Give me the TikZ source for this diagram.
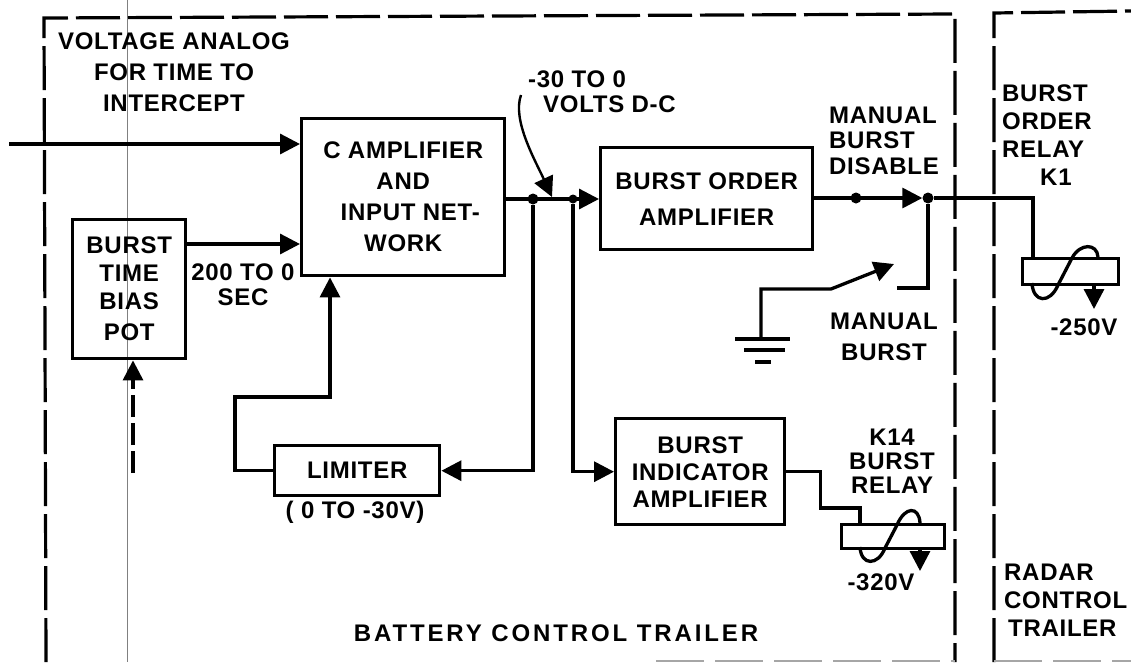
\documentclass[tikz,border=0pt]{standalone}
\usepackage{fontspec}
\setmainfont{Liberation Sans}[LetterSpace=3]
\usetikzlibrary{arrows.meta}
\tikzset{
  box/.style={draw, line width=3.4pt, anchor=north west, align=center, inner sep=0pt},
  coil/.style={draw, line width=3.2pt, anchor=north west, inner sep=0pt},
  wire/.style={line width=3.3pt},
  trailer/.style={line width=3.2pt, dash pattern=on 44pt off 8pt},
  faint/.style={gray!70, line width=1.5pt, dash pattern=on 48pt off 11pt},
  dot/.style={circle, fill=black, inner sep=0pt, minimum size=11pt},
  lab/.style={align=center, inner sep=0pt},
  labl/.style={align=left, inner sep=0pt, anchor=west}
}
\begin{document}
\begin{tikzpicture}[x=1pt, y=-1pt, font=\bfseries\fontsize{24}{31}\selectfont, >={Triangle[length=20pt,width=20pt]}]
  \useasboundingbox (0,0) rectangle (1131,662);
  \draw[gray, line width=0.7pt] (127,0) -- (127,662);
  \draw[trailer] (46,662) -- (44,18) -- (955,14) -- (955,662);
  \draw[trailer] (994,662) -- (994,13) -- (1131,11);
  \draw[faint] (656,661) -- (955,661);
  \draw[faint] (994,661) -- (1131,661);
  \node[box, minimum width=203pt, minimum height=157pt] (camp) at (300,117) {C AMPLIFIER\\AND\\\hspace{14pt}INPUT NET-\\WORK};
  \node[box, minimum width=113pt, minimum height=139pt] (pot) at (71,218) {BURST\\[-3pt]TIME\\[-3pt]BIAS\\POT};
  \node[box, minimum width=165pt, minimum height=50pt] (limiter) at (273,444) {LIMITER};
  \node[box, minimum width=212pt, minimum height=102pt] (order) at (599,146) {BURST ORDER\\[5pt]AMPLIFIER};
  \node[box, minimum width=169pt, minimum height=106pt] (indicator) at (614,417) {BURST\\[-4pt]INDICATOR\\[-4pt]AMPLIFIER};
  \node[coil, minimum width=96pt, minimum height=26pt] (k1) at (1021,257) {};
  \node[coil, minimum width=103pt, minimum height=24pt] (k14) at (840,523) {};
  \node[dot] (sum) at (533,199) {};
  \node[dot, minimum size=9pt] (branch) at (573,199) {};
  \node[dot] (disable) at (856,198) {};
  \node[dot] (contact) at (928,198) {};
  \coordinate (inp) at (9,144);
  \coordinate (potin) at (133,473);
  \coordinate (limit) at (235,397);
  \coordinate (note) at (521,95);
  \coordinate (tap) at (552,197);
  \coordinate (gnd) at (761,339);
  \coordinate (arm) at (831,289);
  \coordinate (armtip) at (894,264);
  \coordinate (fixed) at (897,288);
  \coordinate (k1in) at (1033,257);
  \coordinate (k14in) at (860,523);
  \draw[wire, ->] (inp) -- (inp -| camp.west);
  \draw[wire, ->] (pot.east |- 0,244) -- (camp.west |- 0,244);
  \draw[wire, dash pattern=on 22pt off 6pt, ->] (potin) -- (potin |- pot.south);
  \draw[wire, ->] (limiter.west) -| (limit) -- (limit -| 330,0) -- (camp.south -| 330,0);
  \draw[wire, ->] (sum) |- (limiter.east);
  \draw[wire, ->] (camp.east |- sum) -- (order.west |- sum);
  \draw[wire, ->] (branch) |- (indicator.west);
  \draw[wire, ->] (order.east |- disable) -- (contact);
  \draw[wire] (contact) -| (k1in);
  \draw[wire] (contact) |- (fixed);
  \draw[wire, ->] (gnd) |- (arm) -- (armtip);
  \draw[wire] (735,339) -- (790,339);
  \draw[wire] (744,350) -- (785,350);
  \draw[wire] (755,362) -- (771,362);
  \draw[wire] (indicator.east) -- ++(34,0) |- (860,508) -- (k14in);
  \draw[line width=2.4pt, ->] (note) .. controls (512,120) and (535,160) .. (tap);
  \draw[wire] (1032,283) .. controls (1033,303) and (1050,304) .. (1058,285) -- (1072,258) .. controls (1080,243) and (1097,243) .. (1098,257);
  \draw[wire] (860,547) .. controls (861,566) and (878,566) .. (885,548) -- (897,525) .. controls (905,506) and (919,506) .. (920,523);
  \draw[wire, ->] (k1.south -| 1094,0) -- (1094,309);
  \draw[wire, ->] (k14.south -| 920,0) -- (920,571);
  \node[lab] (voltage) at (174,72) {VOLTAGE ANALOG\\FOR TIME TO\\INTERCEPT};
  \node[lab] (range) at (243,285) {200 TO 0\\[-6pt]SEC};
  \node[labl] (volts) at (528,92) {-30 TO 0\\[-6pt]\hspace{15pt}VOLTS D-C};
  \node[labl] (disablelab) at (829,141) {MANUAL\\[-6pt]BURST\\[-5pt]DISABLE};
  \node[lab] (manual) at (884,337) {MANUAL\\BURST};
  \node[labl] (k1lab) at (1002,135) {BURST\\[-3pt]ORDER\\[-3pt]RELAY\\[-3pt]\hspace{38pt}K1};
  \node[lab] (k1volt) at (1084,327) {-250V};
  \node[lab] (k14lab) at (892,461) {K14\\[-7pt]BURST\\[-7pt]RELAY};
  \node[lab] (k14volt) at (881,582) {-320V};
  \node[lab] (limrange) at (355,512) {( 0 TO -30V)};
  \node[lab, font=\bfseries\fontsize{24}{31}\selectfont\addfontfeature{LetterSpace=12}] (battery) at (556,633) {BATTERY CONTROL TRAILER};
  \node[labl] (radar) at (1004,600) {RADAR\\[-3pt]CONTROL\\[-3pt]\hspace{4pt}TRAILER};
\end{tikzpicture}
\end{document}
